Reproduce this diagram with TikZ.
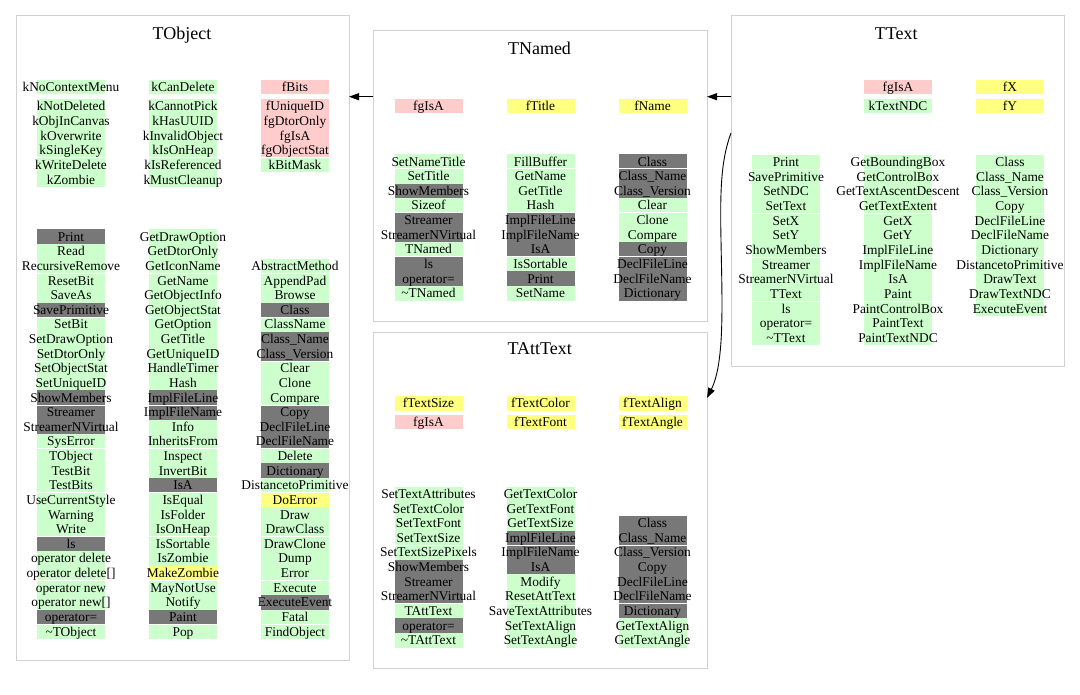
\documentclass[tikz,border=0pt]{standalone}
\usepackage{fontspec}
\setmainfont{Liberation Serif}
\usetikzlibrary{arrows.meta}
\definecolor{cg}{HTML}{CCFFCC}
\definecolor{cd}{HTML}{787878}
\definecolor{cy}{HTML}{FFFF80}
\definecolor{cp}{HTML}{FFCCCC}
\definecolor{frm}{HTML}{D0D0D0}
\newcommand{\rowp}{14.63}
% column of method cells: prefix, x, ytop, first row, list colour/text
\newcommand{\mcol}[5]{%
  \foreach \c/\t [count=\i from #4] in {#5} {
    \fill[fill=\c] (#2-34, {#3+(\i-1)*\rowp}) rectangle (#2+34, {#3+\i*\rowp});
    \node[txt] (#1-\i) at (#2, {#3+(\i-0.5)*\rowp}) {\t};
  }}
% white separators: x, ytop, list of row boundaries
\newcommand{\sepln}[3]{%
  \foreach \k in {#3} \draw[sepline] (#1-34, {#2+\k*\rowp}) -- (#1+34, {#2+\k*\rowp});}
% single data-member cell: name, x, y, colour, text
\newcommand{\dcell}[5]{%
  \fill[#4] (#2-34, #3-7.15) rectangle (#2+34, #3+7.15);
  \node[txt] (#1) at (#2,#3) {#5};}
\begin{document}
\begin{tikzpicture}[x=1pt,y=-1pt,
  txt/.style={inner sep=0pt, outer sep=0pt, text height=10.6pt, text depth=1.8pt,
    font=\fontsize{13.4}{15}\selectfont},
  ttl/.style={inner sep=0pt, anchor=base, font=\fontsize{18}{20}\selectfont},
  clus/.style={draw=frm, line width=1pt, inner sep=0pt, outer sep=0pt},
  sepline/.style={white, line width=0.9pt},
  arr/.style={draw=black, line width=0.9pt, -{Triangle[length=10pt,width=7pt]}}]
\useasboundingbox (0,0) rectangle (1080,695);
\fill[white] (0,0) rectangle (1080,695);

% ---------- clusters ----------
\node[clus, minimum width=333, minimum height=644] (cObj) at (182.5,338) {};
\node[clus, minimum width=334, minimum height=291] (cNamed) at (540,176.5) {};
\node[clus, minimum width=333, minimum height=350] (cText) at (897.5,191) {};
\node[clus, minimum width=334, minimum height=335] (cAtt) at (540,500.5) {};

\node[ttl] (tObj) at (182,39.3) {TObject};
\node[ttl] (tNamed) at (539.5,54.3) {TNamed};
\node[ttl] (tText) at (896.3,39.3) {TText};
\node[ttl] (tAtt) at (539.7,355) {TAttText};

% ---------- TObject ----------
\dcell{o-kNoContextMenu}{71}{87}{cg}{kNoContextMenu}
\dcell{o-kCanDelete}{183}{87}{cg}{kCanDelete}
\dcell{o-fBits}{295}{87}{cp}{fBits}
\mcol{oc1}{71}{99.2}{1}{cg/kNotDeleted, cg/kObjInCanvas, cg/kOverwrite, cg/kSingleKey, cg/kWriteDelete, cg/kZombie}
\mcol{oc2}{183}{99.2}{1}{cg/kCannotPick, cg/kHasUUID, cg/kInvalidObject, cg/kIsOnHeap, cg/kIsReferenced, cg/kMustCleanup}
\mcol{oc3}{295}{99.2}{1}{cp/fUniqueID, cp/fgDtorOnly, cp/fgIsA, cp/fgObjectStat, cg/kBitMask}
\sepln{71}{99.2}{4}\sepln{183}{99.2}{4}\sepln{295}{99.2}{4}

\mcol{om1}{71}{229.4}{1}{cd/Print, cg/Read, cg/RecursiveRemove, cg/ResetBit, cg/SaveAs, cd/SavePrimitive, cg/SetBit, cg/SetDrawOption, cg/SetDtorOnly, cg/SetObjectStat, cg/SetUniqueID, cd/ShowMembers, cd/Streamer, cd/StreamerNVirtual, cg/SysError, cg/TObject, cg/TestBit, cg/TestBits, cg/UseCurrentStyle, cg/Warning, cg/Write, cd/ls, cg/{operator delete}, cg/{operator delete[]}, cg/{operator new}, cg/{operator new[]}, cd/{operator=}, cg/{\textasciitilde TObject}}
\mcol{om2}{183}{229.4}{1}{cg/GetDrawOption, cg/GetDtorOnly, cg/GetIconName, cg/GetName, cg/GetObjectInfo, cg/GetObjectStat, cg/GetOption, cg/GetTitle, cg/GetUniqueID, cg/HandleTimer, cg/Hash, cd/ImplFileLine, cd/ImplFileName, cg/Info, cg/InheritsFrom, cg/Inspect, cg/InvertBit, cd/IsA, cg/IsEqual, cg/IsFolder, cg/IsOnHeap, cg/IsSortable, cg/IsZombie, cy/MakeZombie, cg/MayNotUse, cg/Notify, cd/Paint, cg/Pop}
\mcol{om3}{295}{229.4}{3}{cg/AbstractMethod, cg/AppendPad, cg/Browse, cd/Class, cg/ClassName, cd/Class\_Name, cd/Class\_Version, cg/Clear, cg/Clone, cg/Compare, cd/Copy, cd/DeclFileLine, cd/DeclFileName, cg/Delete, cd/Dictionary, cg/DistancetoPrimitive, cy/DoError, cg/Draw, cg/DrawClass, cg/DrawClone, cg/Dump, cg/Error, cg/Execute, cd/ExecuteEvent, cg/Fatal, cg/FindObject}
\sepln{71}{229.4}{3,6,9,12,15,18,21,24,27}
\sepln{183}{229.4}{3,6,9,12,15,18,21,24,27}
\sepln{295}{229.4}{3,6,9,12,15,18,21,24,27}

% ---------- TNamed ----------
\dcell{n-fgIsA}{428.5}{105.8}{cp}{fgIsA}
\dcell{n-fTitle}{540.5}{105.8}{cy}{fTitle}
\dcell{n-fName}{652.5}{105.8}{cy}{fName}
\mcol{nm1}{428.5}{154.3}{1}{cg/SetNameTitle, cg/SetTitle, cd/ShowMembers, cg/Sizeof, cd/Streamer, cd/StreamerNVirtual, cg/TNamed, cd/ls, cd/{operator=}, cg/{\textasciitilde TNamed}}
\mcol{nm2}{540.5}{154.3}{1}{cg/FillBuffer, cg/GetName, cg/GetTitle, cg/Hash, cd/ImplFileLine, cd/ImplFileName, cd/IsA, cg/IsSortable, cd/Print, cg/SetName}
\mcol{nm3}{652.5}{154.3}{1}{cd/Class, cd/Class\_Name, cd/Class\_Version, cg/Clear, cg/Clone, cg/Compare, cd/Copy, cd/DeclFileLine, cd/DeclFileName, cd/Dictionary}
\sepln{428.5}{154.3}{1,4,7}\sepln{540.5}{154.3}{1,4,7}\sepln{652.5}{154.3}{1,4,7}

% ---------- TText ----------
\dcell{t-fgIsA}{898}{87}{cp}{fgIsA}
\dcell{t-kTextNDC}{898}{106}{cg}{kTextNDC}
\dcell{t-fX}{1010}{87}{cy}{fX}
\dcell{t-fY}{1010}{106}{cy}{fY}
\mcol{tm1}{786}{155}{1}{cg/Print, cg/SavePrimitive, cg/SetNDC, cg/SetText, cg/SetX, cg/SetY, cg/ShowMembers, cg/Streamer, cg/StreamerNVirtual, cg/TText, cg/ls, cg/{operator=}, cg/{\textasciitilde TText}}
\mcol{tm2}{898}{155}{1}{cg/GetBoundingBox, cg/GetControlBox, cg/GetTextAscentDescent, cg/GetTextExtent, cg/GetX, cg/GetY, cg/ImplFileLine, cg/ImplFileName, cg/IsA, cg/Paint, cg/PaintControlBox, cg/PaintText, cg/PaintTextNDC}
\mcol{tm3}{1010}{155}{1}{cg/Class, cg/Class\_Name, cg/Class\_Version, cg/Copy, cg/DeclFileLine, cg/DeclFileName, cg/Dictionary, cg/DistancetoPrimitive, cg/DrawText, cg/DrawTextNDC, cg/ExecuteEvent}
\sepln{786}{155}{1,4,7,10}\sepln{898}{155}{1,4,7,10}\sepln{1010}{155}{1,4,7,10}

% ---------- TAttText ----------
\dcell{a-fTextSize}{428.5}{403.5}{cy}{fTextSize}
\dcell{a-fTextColor}{540.5}{403.5}{cy}{fTextColor}
\dcell{a-fTextAlign}{652.5}{403.5}{cy}{fTextAlign}
\dcell{a-fgIsA}{428.5}{422}{cp}{fgIsA}
\dcell{a-fTextFont}{540.5}{422}{cy}{fTextFont}
\dcell{a-fTextAngle}{652.5}{422}{cy}{fTextAngle}
\mcol{am1}{428.5}{486.7}{1}{cg/SetTextAttributes, cg/SetTextColor, cg/SetTextFont, cg/SetTextSize, cg/SetTextSizePixels, cd/ShowMembers, cd/Streamer, cd/StreamerNVirtual, cg/TAttText, cd/{operator=}, cg/{\textasciitilde TAttText}}
\mcol{am2}{540.5}{486.7}{1}{cg/GetTextColor, cg/GetTextFont, cg/GetTextSize, cd/ImplFileLine, cd/ImplFileName, cd/IsA, cg/Modify, cg/ResetAttText, cg/SaveTextAttributes, cg/SetTextAlign, cg/SetTextAngle}
\mcol{am3}{652.5}{486.7}{3}{cd/Class, cd/Class\_Name, cd/Class\_Version, cd/Copy, cd/DeclFileLine, cd/DeclFileName, cd/Dictionary, cg/GetTextAlign, cg/GetTextAngle}
\sepln{428.5}{486.7}{4,8}\sepln{540.5}{486.7}{4,8}\sepln{652.5}{486.7}{4,8}

% ---------- inheritance arrows ----------
\coordinate (yA) at (0,96.7);
\coordinate (yB) at (0,133);
\coordinate (yC) at (0,398);
\draw[arr] (cNamed.west |- yA) -- (cObj.east |- yA);
\draw[arr] (cText.west |- yA) -- (cNamed.east |- yA);
\draw[arr] (cText.west |- yB) .. controls (721,160) and (720,190) .. (721,240)
  .. controls (722,300) and (725,362) .. (cAtt.east |- yC);
\end{tikzpicture}
\end{document}
